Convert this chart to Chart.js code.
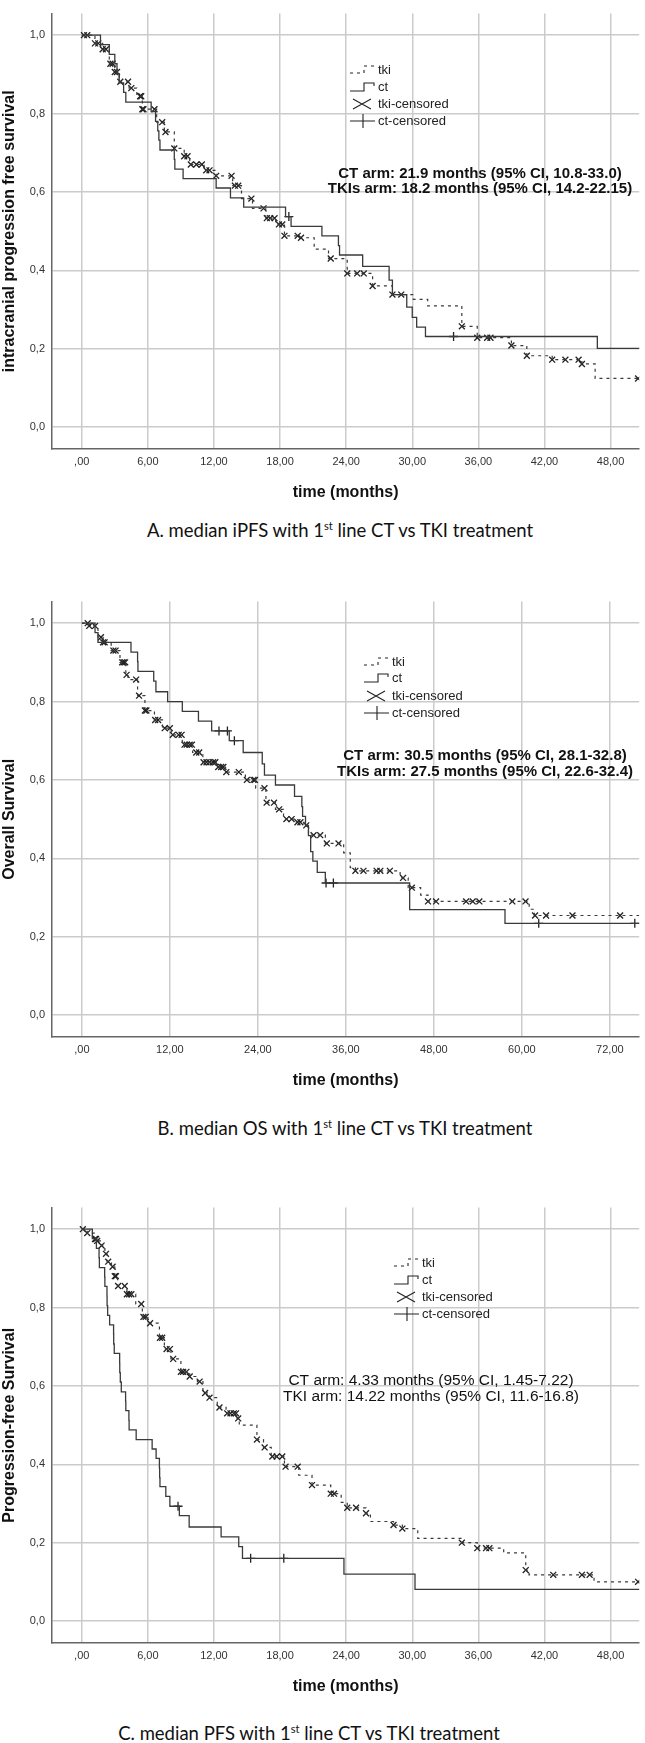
<!DOCTYPE html>
<html>
<head>
<meta charset="utf-8">
<title>Kaplan-Meier: 1st line CT vs TKI</title>
<style>
  body { margin: 0; background: #fff; width: 645px; height: 1743px; position: relative; overflow: hidden; }
  .box { position: absolute; left: 0; width: 645px; height: 510px; }
  .cap { position: absolute; transform: translate(-50%, -50%); white-space: nowrap;
         font-family: Lato, "Open Sans", sans-serif; font-size: 18.5px; line-height: 1; color: #111; }
  .cap sup { font-size: 0.6em; vertical-align: 0.6em; }
</style>
</head>
<body>

<div class="box" style="top:0px"><canvas id="chartA"></canvas></div>
<div class="cap" style="left:340px; top:530px">A. median iPFS with 1<sup>st</sup> line CT vs TKI treatment</div>

<div class="box" style="top:588px"><canvas id="chartB"></canvas></div>
<div class="cap" style="left:345px; top:1128px">B. median OS with 1<sup>st</sup> line CT vs TKI treatment</div>

<div class="box" style="top:1194px"><canvas id="chartC"></canvas></div>
<div class="cap" style="left:309px; top:1733px">C. median PFS with 1<sup>st</sup> line CT vs TKI treatment</div>

<script src="https://cdn.jsdelivr.net/npm/chart.js"></script>

<script>

    // ---- A: intracranial PFS ----
    const iPFS_ct_time = [0, 1.7, 2.5, 3.0, 3.2, 3.4, 3.8, 4.0, 6.3, 6.7, 6.9, 7.0, 7.1, 8.4, 8.45, 9.2, 12.2, 13.5, 14.7, 18.5, 19.0, 21.8, 23.3, 23.4, 25.5, 27.9, 28.2, 29.5, 30.0, 30.4, 31.2, 46.8, 51];
    const iPFS_ct_surv = [1.0, 0.976, 0.951, 0.927, 0.902, 0.878, 0.854, 0.829, 0.805, 0.780, 0.756, 0.732, 0.707, 0.683, 0.658, 0.634, 0.610, 0.585, 0.561, 0.537, 0.512, 0.488, 0.463, 0.439, 0.410, 0.375, 0.338, 0.306, 0.280, 0.255, 0.231, 0.201, 0.201];
    const iPFS_ct_cens = [18.8, 33.75];
    const iPFS_tki_time = [0, 1.2, 1.9, 2.5, 3.0, 3.4, 4.3, 5.0, 5.5, 6.8, 7.5, 8.4, 9.3, 9.8, 11.1, 12.2, 13.7, 14.5, 15.5, 16.7, 17.6, 18.4, 19.7, 21.1, 22.4, 24.1, 26.4, 28.2, 30.1, 31.4, 34.5, 35.9, 39.0, 40.4, 42.7, 45.4, 46.6, 51];
    const iPFS_tki_surv = [1.0, 0.979, 0.964, 0.927, 0.906, 0.881, 0.865, 0.844, 0.811, 0.778, 0.753, 0.711, 0.691, 0.670, 0.655, 0.641, 0.616, 0.583, 0.558, 0.533, 0.517, 0.488, 0.483, 0.454, 0.430, 0.392, 0.360, 0.338, 0.326, 0.309, 0.257, 0.228, 0.208, 0.182, 0.172, 0.161, 0.124, 0.124];
    const iPFS_tki_cens = [0.2, 0.5, 1.2, 1.5, 1.9, 2.2, 2.6, 2.8, 3.0, 3.2, 3.5, 4.2, 4.5, 5.3, 5.4, 5.5, 5.6, 6.6, 7.3, 7.6, 8.4, 9.3, 9.6, 9.9, 10.4, 10.9, 11.3, 11.6, 12.2, 13.6, 13.9, 14.2, 15.4, 16.5, 16.8, 17.1, 17.5, 17.9, 18.2, 18.4, 19.6, 19.9, 22.6, 24.1, 25.0, 25.6, 26.4, 28.2, 29.0, 34.5, 35.9, 36.8, 37.1, 39.0, 40.4, 42.7, 43.9, 45.1, 45.4, 50.5];
    const iPFS_notes = ['CT arm: 21.9 months (95% CI, 10.8-33.0)', 'TKIs arm: 18.2 months (95% CI, 14.2-22.15)'];

    // ---- B: overall survival ----
    const OS_ct_time = [0, 1.8, 2.2, 6.7, 7.6, 7.65, 9.8, 10.1, 11.7, 13.7, 15.9, 17.7, 20.1, 22.0, 24.6, 24.9, 26.4, 29.0, 30.0, 30.1, 30.5, 30.9, 31.2, 31.5, 32.1, 33.2, 44.7, 57.7, 77];
    const OS_ct_surv = [1.0, 0.976, 0.951, 0.926, 0.902, 0.877, 0.852, 0.825, 0.800, 0.775, 0.750, 0.725, 0.700, 0.670, 0.641, 0.612, 0.587, 0.558, 0.532, 0.507, 0.482, 0.458, 0.417, 0.393, 0.364, 0.337, 0.269, 0.234, 0.234];
    const OS_ct_cens = [18.7, 19.85, 20.8, 33.3, 34.3, 62.3, 75.4];
    const OS_tki_time = [0, 0.9, 2.2, 2.9, 4.0, 5.2, 6.0, 6.3, 7.6, 8.6, 9.9, 11.0, 12.2, 13.7, 15.1, 16.5, 18.3, 19.6, 22.3, 23.7, 25.1, 26.4, 27.5, 29.1, 30.3, 30.9, 33.2, 35.7, 36.6, 37.3, 43.4, 44.5, 46.2, 47.2, 61.0, 61.7, 77];
    const OS_tki_surv = [1.0, 0.993, 0.964, 0.951, 0.930, 0.900, 0.868, 0.856, 0.815, 0.777, 0.753, 0.732, 0.715, 0.690, 0.670, 0.645, 0.633, 0.620, 0.600, 0.579, 0.542, 0.525, 0.500, 0.492, 0.484, 0.459, 0.438, 0.414, 0.376, 0.368, 0.350, 0.325, 0.306, 0.290, 0.270, 0.254, 0.254];
    const OS_tki_cens = [0.8, 1.0, 1.8, 2.6, 2.9, 3.1, 4.3, 4.6, 5.5, 5.7, 5.9, 6.1, 7.4, 7.8, 8.6, 8.8, 10.0, 10.4, 11.3, 12.0, 12.4, 13.2, 13.6, 14.0, 14.3, 14.7, 15.0, 15.6, 16.0, 16.6, 17.0, 17.4, 17.9, 18.2, 18.6, 19.0, 19.3, 19.7, 21.4, 22.5, 23.4, 23.6, 24.9, 25.2, 26.2, 26.9, 27.9, 28.6, 29.4, 29.8, 30.6, 31.6, 32.5, 33.4, 35.0, 37.3, 38.4, 40.2, 40.7, 42.0, 43.8, 45.0, 47.2, 48.3, 52.4, 53.3, 54.2, 58.7, 60.5, 61.8, 63.3, 66.9, 73.4];
    const OS_notes = ['CT arm: 30.5 months (95% CI, 28.1-32.8)', 'TKIs arm: 27.5 months (95% CI, 22.6-32.4)'];

    // ---- C: progression-free survival ----
    const PFS_ct_time = [0, 0.96, 1.33, 1.57, 1.6, 2.08, 2.1, 2.29, 2.3, 2.35, 2.53, 2.89, 2.9, 2.95, 3.44, 3.45, 3.5, 3.59, 3.98, 4.0, 4.28, 4.3, 4.94, 6.39, 6.75, 7.05, 7.07, 7.1, 7.63, 8.0, 8.86, 9.75, 12.65, 14.25, 14.59, 23.8, 30.25, 51];
    const PFS_ct_surv = [1.0, 0.976, 0.951, 0.927, 0.902, 0.878, 0.854, 0.829, 0.805, 0.780, 0.756, 0.732, 0.707, 0.683, 0.659, 0.634, 0.610, 0.585, 0.561, 0.537, 0.512, 0.488, 0.463, 0.439, 0.415, 0.390, 0.366, 0.343, 0.318, 0.293, 0.269, 0.240, 0.215, 0.190, 0.160, 0.120, 0.081, 0.081];
    const PFS_ct_cens = [8.74, 15.33, 18.34];
    const PFS_tki_time = [0, 0.5, 1.2, 1.4, 1.8, 2.1, 2.3, 2.7, 3.0, 3.25, 4.1, 4.9, 5.5, 6.0, 7.05, 7.5, 8.1, 9.0, 9.8, 10.5, 11.0, 11.6, 12.3, 13.1, 14.1, 14.3, 15.9, 16.5, 17.2, 18.4, 19.7, 20.9, 22.6, 23.55, 24.1, 25.8, 26.2, 28.3, 29.1, 30.5, 34.5, 35.9, 38.3, 40.3, 40.6, 46.5, 51];
    const PFS_tki_surv = [1.0, 0.990, 0.975, 0.970, 0.958, 0.937, 0.917, 0.904, 0.880, 0.855, 0.834, 0.809, 0.776, 0.760, 0.723, 0.694, 0.669, 0.636, 0.624, 0.611, 0.582, 0.570, 0.545, 0.530, 0.517, 0.500, 0.463, 0.443, 0.420, 0.394, 0.372, 0.347, 0.325, 0.303, 0.289, 0.275, 0.254, 0.245, 0.236, 0.211, 0.200, 0.186, 0.174, 0.130, 0.118, 0.100, 0.100];
    const PFS_tki_cens = [0.1, 0.5, 1.2, 1.3, 1.4, 1.8, 2.2, 2.4, 2.8, 3.0, 3.1, 3.3, 3.9, 4.1, 4.3, 4.5, 5.4, 5.6, 5.8, 6.2, 7.1, 7.3, 7.7, 8.0, 8.3, 9.0, 9.2, 9.5, 9.8, 10.7, 11.2, 11.6, 12.5, 13.2, 13.5, 13.8, 14.0, 14.2, 15.9, 16.6, 17.3, 17.7, 18.2, 18.5, 19.6, 20.9, 22.6, 22.9, 24.1, 24.9, 25.8, 28.3, 29.1, 34.5, 35.9, 36.7, 37.0, 40.3, 42.8, 45.4, 46.1, 50.5];
    const PFS_notes = ['CT arm: 4.33 months (95% CI, 1.45-7.22)', 'TKI arm: 14.22 months (95% CI, 11.6-16.8)'];

    const legendLabels = ['tki', 'ct', 'tki-censored', 'ct-censored'];

    const fontFam = '"Liberation Sans", Arial, sans-serif';

    function stepPoints(times, surv) {
        return times.map((t, i) => ({x: t, y: surv[i]}));
    }

    function survAt(times, surv, t) {
        let s = surv[0];
        for (let i = 0; i < times.length; i++) {
            if (times[i] <= t) s = surv[i];
        }
        return s;
    }

    function censorPoints(cens, times, surv) {
        return cens.map(t => ({x: t, y: survAt(times, surv, t)}));
    }

    // legend + median annotation drawn inside the plot
    function decoPlugin(d) {
        return {
            id: 'kmDeco',
            afterDraw(chart) {
                const ctx = chart.ctx;
                const x0 = d.legX;
                const r = d.legRows;
                ctx.save();
                ctx.strokeStyle = '#222';
                ctx.lineWidth = 1.1;

                // tki: dashed step
                ctx.setLineDash([3, 4]);
                ctx.beginPath();
                ctx.moveTo(x0, r[0] + 3);
                ctx.lineTo(x0 + 14, r[0] + 3);
                ctx.lineTo(x0 + 14, r[0] - 4);
                ctx.lineTo(x0 + 26, r[0] - 4);
                ctx.stroke();
                ctx.setLineDash([]);

                // ct: solid step
                ctx.beginPath();
                ctx.moveTo(x0, r[1] + 4);
                ctx.lineTo(x0 + 14, r[1] + 4);
                ctx.lineTo(x0 + 14, r[1] - 4);
                ctx.lineTo(x0 + 24, r[1] - 4);
                ctx.lineTo(x0 + 24, r[1] - 1);
                ctx.stroke();

                // tki-censored: X
                ctx.beginPath();
                ctx.moveTo(x0 + 3, r[2] - 5);
                ctx.lineTo(x0 + 21, r[2] + 5);
                ctx.moveTo(x0 + 3, r[2] + 5);
                ctx.lineTo(x0 + 21, r[2] - 5);
                ctx.stroke();

                // ct-censored: +
                ctx.beginPath();
                ctx.moveTo(x0, r[3]);
                ctx.lineTo(x0 + 25, r[3]);
                ctx.moveTo(x0 + 13, r[3] - 7);
                ctx.lineTo(x0 + 13, r[3] + 7);
                ctx.stroke();

                ctx.fillStyle = '#222';
                ctx.font = '13px ' + fontFam;
                ctx.textAlign = 'left';
                ctx.textBaseline = 'middle';
                legendLabels.forEach((lab, i) => ctx.fillText(lab, d.legTextX, r[i]));

                ctx.fillStyle = '#111';
                ctx.font = (d.noteBold ? 'bold ' : '') + d.noteSize + 'px ' + fontFam;
                ctx.textAlign = 'center';
                d.notes.forEach((s, i) => ctx.fillText(s, d.noteX, d.noteY[i]));
                ctx.restore();
            }
        };
    }

    function makeKM(id, cfg) {
        const ctx = document.getElementById(id);

        const data = {
            datasets: [
                {
                    label: 'tki',
                    data: stepPoints(cfg.tkiT, cfg.tkiS),
                    stepped: true,
                    borderColor: '#3a3a3a',
                    borderWidth: 1.2,
                    borderDash: [3, 4],
                    pointRadius: 0,
                    fill: false
                },
                {
                    label: 'ct',
                    data: stepPoints(cfg.ctT, cfg.ctS),
                    stepped: true,
                    borderColor: '#3a3a3a',
                    borderWidth: 1.3,
                    pointRadius: 0,
                    fill: false
                },
                {
                    type: 'scatter',
                    label: 'tki-censored',
                    data: censorPoints(cfg.tkiC, cfg.tkiT, cfg.tkiS),
                    pointStyle: 'crossRot',
                    pointRadius: 4.2,
                    borderColor: '#222',
                    borderWidth: 1.3
                },
                {
                    type: 'scatter',
                    label: 'ct-censored',
                    data: censorPoints(cfg.ctC, cfg.ctT, cfg.ctS),
                    pointStyle: 'cross',
                    pointRadius: 4.5,
                    borderColor: '#222',
                    borderWidth: 1.3
                }
            ]
        };

        const config = {
            type: 'line',
            data: data,
            options: {
                responsive: true,
                maintainAspectRatio: false,
                animation: false,
                layout: { padding: { top: 2, right: 3, left: 0, bottom: 0 } },
                scales: {
                    x: {
                        type: 'linear',
                        min: cfg.xMin,
                        max: cfg.xMax,
                        afterFit: s => { s.height = 61; },
                        grid: { color: '#cbcbcb', lineWidth: 1.5, drawTicks: false },
                        border: { display: true, color: '#666', width: 1.5 },
                        ticks: {
                            stepSize: cfg.xStep,
                            includeBounds: false,
                            maxRotation: 0,
                            autoSkip: false,
                            padding: 6,
                            color: '#333',
                            font: { family: fontFam, size: 11 },
                            callback: v => (v === 0 ? ',00' : v + ',00')
                        },
                        title: {
                            display: true,
                            text: 'time (months)',
                            color: '#111',
                            font: { family: fontFam, size: 16, weight: 'bold' },
                            padding: { top: 4, bottom: 8 }
                        }
                    },
                    y: {
                        type: 'linear',
                        min: -0.056,
                        max: 1.055,
                        afterFit: s => { s.width = 52; },
                        grid: { color: '#cbcbcb', lineWidth: 1.5, drawTicks: false },
                        border: { display: true, color: '#666', width: 1.5 },
                        ticks: {
                            stepSize: 0.2,
                            includeBounds: false,
                            padding: 7,
                            color: '#333',
                            font: { family: fontFam, size: 11 },
                            callback: v => v.toFixed(1).replace('.', ',')
                        },
                        title: {
                            display: true,
                            text: cfg.yTitle,
                            color: '#111',
                            font: { family: fontFam, size: 16, weight: 'bold' },
                            padding: { top: 0, bottom: 0 }
                        }
                    }
                },
                plugins: {
                    legend: { display: false },
                    tooltip: { enabled: false }
                }
            },
            plugins: [decoPlugin(cfg.deco)]
        };

        return new Chart(ctx, config);
    }

    makeKM('chartA', {
        tkiT: iPFS_tki_time, tkiS: iPFS_tki_surv, tkiC: iPFS_tki_cens,
        ctT: iPFS_ct_time, ctS: iPFS_ct_surv, ctC: iPFS_ct_cens,
        xMin: -2.7, xMax: 50.6, xStep: 6,
        yTitle: 'intracranial progression free survival',
        deco: { legX: 350, legTextX: 378, legRows: [70, 87, 104, 121],
                notes: iPFS_notes, noteX: 480, noteY: [174, 189], noteBold: true, noteSize: 15 }
    });

    makeKM('chartB', {
        tkiT: OS_tki_time, tkiS: OS_tki_surv, tkiC: OS_tki_cens,
        ctT: OS_ct_time, ctS: OS_ct_surv, ctC: OS_ct_cens,
        xMin: -4.07, xMax: 76.0, xStep: 12,
        yTitle: 'Overall Survival',
        deco: { legX: 364, legTextX: 392, legRows: [74, 90, 108, 125],
                notes: OS_notes, noteX: 485, noteY: [168, 184], noteBold: true, noteSize: 15 }
    });

    makeKM('chartC', {
        tkiT: PFS_tki_time, tkiS: PFS_tki_surv, tkiC: PFS_tki_cens,
        ctT: PFS_ct_time, ctS: PFS_ct_surv, ctC: PFS_ct_cens,
        xMin: -2.7, xMax: 50.6, xStep: 6,
        yTitle: 'Progression-free Survival',
        deco: { legX: 394, legTextX: 422, legRows: [69, 86, 103, 120],
                notes: PFS_notes, noteX: 431, noteY: [187, 203], noteBold: false, noteSize: 15.5 }
    });

</script>

</body>
</html>
